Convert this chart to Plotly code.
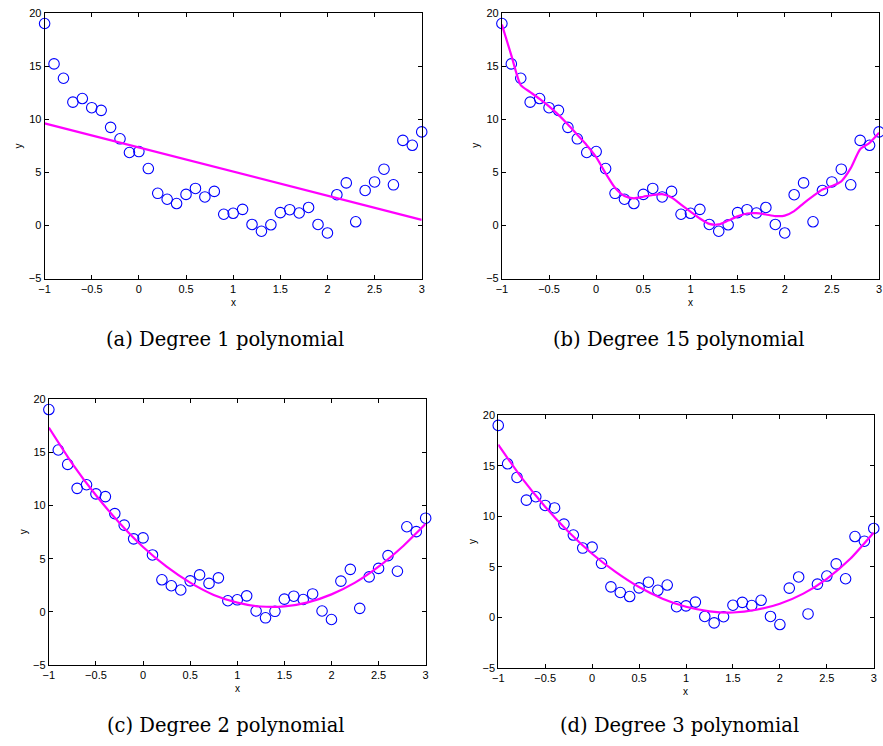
import plotly.graph_objects as go

# ---- data ----
x_data = [-1.0, -0.9, -0.8, -0.7, -0.6, -0.5, -0.4, -0.3, -0.2, -0.1,
          0.0, 0.1, 0.2, 0.3, 0.4, 0.5, 0.6, 0.7, 0.8, 0.9,
          1.0, 1.1, 1.2, 1.3, 1.4, 1.5, 1.6, 1.7, 1.8, 1.9,
          2.0, 2.1, 2.2, 2.3, 2.4, 2.5, 2.6, 2.7, 2.8, 2.9, 3.0]
y_data = [19.0, 15.2, 13.85, 11.6, 11.94, 11.08, 10.83, 9.23, 8.15, 6.86,
          6.95, 5.35, 3.02, 2.46, 2.06, 2.92, 3.48, 2.68, 3.2, 1.05,
          1.14, 1.51, 0.09, -0.55, 0.06, 1.2, 1.48, 1.17, 1.69, 0.09,
          -0.71, 2.89, 4.0, 0.34, 3.29, 4.09, 5.29, 3.82, 8.0, 7.54, 8.8]

# degree 1 fit
x_fit1 = [-1.0, 3.0]
y_fit1 = [9.6, 0.52]

# degree 15 fit
x_fit15 = x_data
y_fit15 = [18.9, 16.0, 13.2, 12.55, 11.9, 11.2, 10.4, 9.5, 8.52, 7.55,
           6.42, 4.9, 3.54, 2.77, 2.55, 2.7, 2.86, 2.94, 2.62, 1.95,
           1.3, 0.65, 0.14, 0.09, 0.46, 0.85, 1.12, 1.15, 1.03, 0.88,
           0.92, 1.35, 2.08, 2.75, 3.38, 3.7, 4.15, 5.39, 7.17, 7.77, 8.72]

# degree 2 and degree 3 fits
x_fit = [-1.0, -0.75, -0.5, -0.25, 0.0, 0.25, 0.5, 0.75, 1.0,
         1.25, 1.5, 1.75, 2.0, 2.25, 2.5, 2.75, 3.0]
y_fit2 = [17.3, 13.9, 10.95, 8.35, 6.1, 4.25, 2.75, 1.6, 0.88,
          0.51, 0.52, 0.9, 1.65, 2.75, 4.25, 6.1, 8.28]
y_fit3 = [17.1, 13.8, 10.95, 8.45, 6.3, 4.5, 3.0, 1.85, 1.05,
          0.6, 0.48, 0.75, 1.35, 2.35, 3.82, 5.8, 8.4]

captions = ["(a) Degree 1 polynomial", "(b) Degree 15 polynomial",
            "(c) Degree 2 polynomial", "(d) Degree 3 polynomial"]
x_ticks = [-1, -0.5, 0, 0.5, 1, 1.5, 2, 2.5, 3]
y_ticks = [-5, 0, 5, 10, 15, 20]

W, H = 883, 746
# pixel boxes: (left, right, top, bottom)
boxes = [(39, 420, 7, 277), (501, 882, 7, 277),
         (43.3, 424, 399.3, 670), (497.3, 876.7, 416, 672.7)]
fits = [(x_fit1, y_fit1, "linear"), (x_fit15, y_fit15, "spline"),
        (x_fit, y_fit2, "spline"), (x_fit, y_fit3, "spline")]
cap_pos = [(221, 339), (680, 339), (222, 731), (680, 731)]

fig = go.Figure()
annotations = []
for i, ((l, r, t, b), (fx, fy, shp)) in enumerate(zip(boxes, fits)):
    n = "" if i == 0 else str(i + 1)
    fig.add_trace(go.Scatter(x=x_data, y=y_data, mode="markers",
                             marker=dict(symbol="circle-open", size=10.5,
                                         color="#0000ff", line=dict(width=1.1, color="#0000ff")),
                             cliponaxis=False, showlegend=False,
                             xaxis="x" + n, yaxis="y" + n))
    fig.add_trace(go.Scatter(x=fx, y=fy, mode="lines",
                             line=dict(color="#ff00ff", width=2.2, shape=shp, smoothing=0.6),
                             showlegend=False, xaxis="x" + n, yaxis="y" + n))
    axcommon = dict(showgrid=False, zeroline=False, showline=True, linecolor="black",
                    linewidth=1, mirror="allticks", ticks="inside", ticklen=4,
                    tickcolor="black", tickwidth=1,
                    tickfont=dict(family="Liberation Sans", size=11, color="black"))
    fig.layout["xaxis" + n] = dict(domain=[l / W, r / W], range=[-1, 3],
                                   tickvals=x_ticks, anchor="y" + n, **axcommon)
    fig.layout["yaxis" + n] = dict(domain=[1 - b / H, 1 - t / H], range=[-5, 20],
                                   tickvals=y_ticks, anchor="x" + n, **axcommon)
    # axis labels
    annotations.append(dict(text="x", x=(l + r) / 2 / W, y=1 - (b + 24) / H,
                            xref="paper", yref="paper", showarrow=False,
                            xanchor="center", yanchor="middle",
                            font=dict(family="Liberation Sans", size=10, color="black")))
    annotations.append(dict(text="y", x=(l - 26) / W, y=1 - (t + b) / 2 / H,
                            xref="paper", yref="paper", showarrow=False, textangle=-90,
                            xanchor="center", yanchor="middle",
                            font=dict(family="Liberation Sans", size=10, color="black")))
    cx, cy = cap_pos[i]
    annotations.append(dict(text=captions[i], x=cx / W, y=1 - cy / H,
                            xref="paper", yref="paper", showarrow=False,
                            xanchor="center", yanchor="middle",
                            font=dict(family="DejaVu Serif", size=19.5, color="black")))

fig.update_layout(width=W, height=H, margin=dict(l=0, r=0, t=0, b=0),
                  paper_bgcolor="white", plot_bgcolor="white",
                  annotations=annotations)
fig.write_html("out.html")
